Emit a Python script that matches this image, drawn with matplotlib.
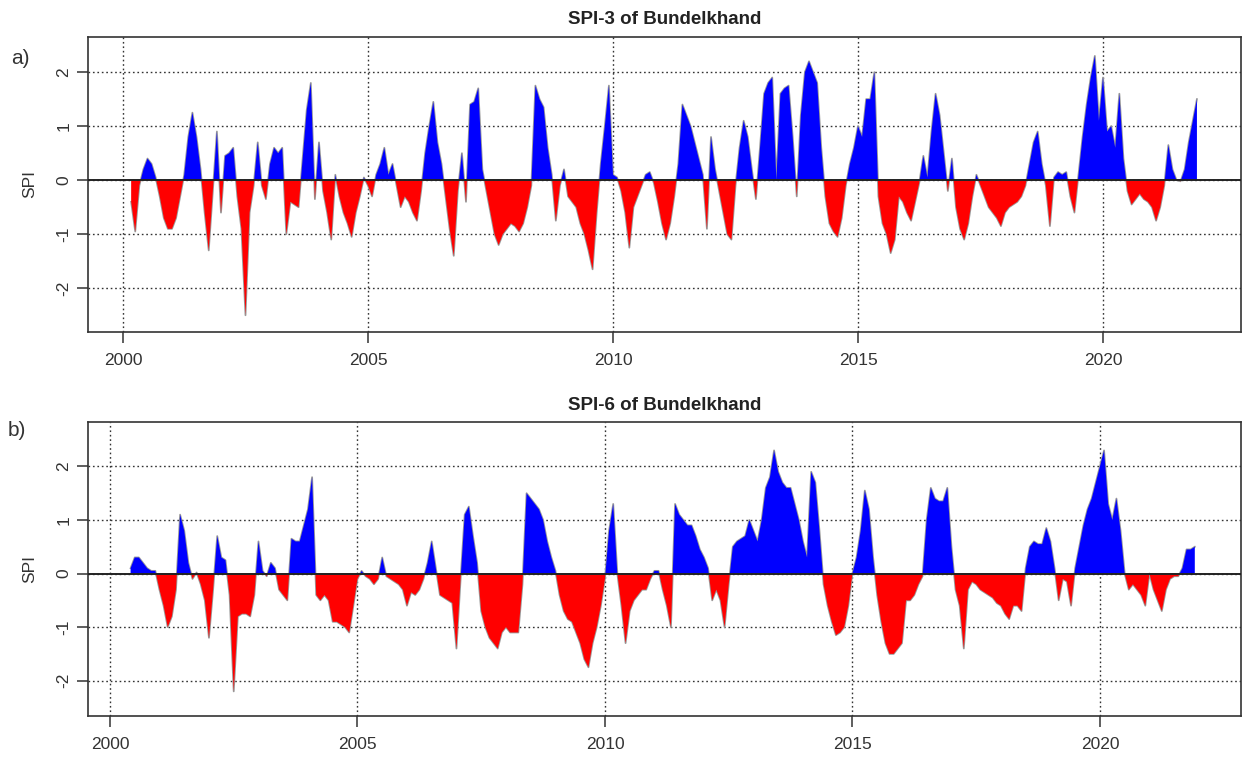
import numpy as np
import matplotlib
matplotlib.use("Agg")
import matplotlib.pyplot as plt

plt.rcParams['font.family'] = ['Liberation Sans', 'DejaVu Sans']

# ---------------- data (monthly SPI, month index 0 = Jan 2000) ----------------
spi3_start = 2   # Mar 2000
spi3 = [
    -0.4, -0.95, -0.1, 0.2, 0.4, 0.3, 0.05, -0.3, -0.7, -0.9,          # m2-11
    -0.9, -0.7, -0.3, 0.1, 0.8, 1.25, 0.8, 0.2, -0.6, -1.3,            # m12-21
    -0.2, 0.9, -0.6, 0.45, 0.5, 0.6, -0.3, -0.9, -2.5, -0.6,           # m22-31
    -0.1, 0.7, -0.1, -0.35, 0.3, 0.6, 0.5, 0.6, -1.0, -0.4,            # m32-41
    -0.45, -0.5, 0.4, 1.3, 1.8, -0.35, 0.7, -0.2, -0.6, -1.1,          # m42-51
    0.1, -0.3, -0.6, -0.8, -1.05, -0.6, -0.3, 0.05, -0.1, -0.3,        # m52-61
    0.1, 0.3, 0.6, 0.1, 0.3, -0.1, -0.5, -0.3, -0.4, -0.6,             # m62-71
    -0.75, -0.2, 0.5, 1.0, 1.45, 0.7, 0.3, -0.3, -0.9, -1.4,           # m72-81
    -0.2, 0.5, -0.4, 1.4, 1.45, 1.7, 0.2, -0.2, -0.6, -1.0,            # m82-91
    -1.2, -1.0, -0.9, -0.8, -0.85, -0.95, -0.8, -0.5, -0.1, 1.75,      # m92-101
    1.5, 1.35, 0.6, 0.1, -0.75, -0.1, 0.2, -0.3, -0.4, -0.5,           # m102-111
    -0.8, -1.0, -1.3, -1.65, -0.6, 0.3, 1.0, 1.75, 0.1, 0.05,          # m112-121
    -0.2, -0.6, -1.25, -0.5, -0.3, -0.1, 0.1, 0.15, -0.05, -0.4,       # m122-131
    -0.8, -1.1, -0.8, -0.3, 0.3, 1.4, 1.2, 1.0, 0.7, 0.4,              # m132-141
    0.1, -0.9, 0.8, 0.2, -0.2, -0.6, -1.0, -1.1, -0.1, 0.6,            # m142-151
    1.1, 0.8, 0.2, -0.35, 0.6, 1.6, 1.8, 1.9, 0.0, 1.6,                # m152-161
    1.7, 1.75, 0.8, -0.3, 1.2, 2.0, 2.2, 2.0, 1.8, 0.6,                # m162-171
    -0.3, -0.8, -0.95, -1.05, -0.7, -0.1, 0.3, 0.6, 1.0, 0.8,          # m172-181
    1.5, 1.5, 2.0, -0.3, -0.8, -1.0, -1.35, -1.1, -0.3, -0.4,          # m182-191
    -0.6, -0.75, -0.4, -0.05, 0.45, 0.05, 0.9, 1.6, 1.2, 0.5,          # m192-201
    -0.2, 0.4, -0.5, -0.9, -1.1, -0.8, -0.3, 0.1, -0.1, -0.3,          # m202-211
    -0.5, -0.6, -0.7, -0.85, -0.6, -0.5, -0.45, -0.4, -0.3, -0.1,      # m212-221
    0.3, 0.7, 0.9, 0.3, -0.1, -0.85, 0.05, 0.15, 0.1, 0.15,            # m222-231
    -0.3, -0.6, 0.1, 0.8, 1.4, 1.9, 2.3, 1.1, 1.9, 0.9,                # m232-241
    1.0, 0.6, 1.6, 0.4, -0.2, -0.45, -0.35, -0.25, -0.35, -0.4,        # m242-251
    -0.5, -0.75, -0.5, -0.1, 0.65, 0.2, 0.0, -0.02, 0.2, 0.7,          # m252-261
    1.1, 1.5,                                                          # m262-263
]

spi6_start = 5   # Jun 2000
spi6 = [
    0.1, 0.3, 0.3, 0.2, 0.1, 0.05, 0.05,                               # m5-11
    -0.3, -0.6, -1.0, -0.8, -0.3, 1.1, 0.8, 0.2, -0.1, 0.02,           # m12-21
    -0.2, -0.5, -1.2, -0.3, 0.7, 0.3, 0.25, -0.4, -2.2, -0.8,          # m22-31
    -0.75, -0.75, -0.8, -0.4, 0.6, 0.05, -0.05, 0.2, 0.1, -0.3,        # m32-41
    -0.4, -0.5, 0.65, 0.6, 0.6, 0.9, 1.2, 1.8, -0.4, -0.5,             # m42-51
    -0.4, -0.5, -0.9, -0.9, -0.95, -1.0, -1.1, -0.6, -0.1, 0.05,       # m52-61
    -0.05, -0.1, -0.2, -0.1, 0.3, -0.05, -0.1, -0.15, -0.2, -0.3,      # m62-71
    -0.6, -0.35, -0.4, -0.3, -0.1, 0.2, 0.6, 0.1, -0.4, -0.45,         # m72-81
    -0.5, -0.55, -1.4, -0.1, 1.1, 1.25, 0.7, 0.2, -0.7, -1.0,          # m82-91
    -1.2, -1.3, -1.4, -1.1, -1.0, -1.1, -1.1, -1.1, -0.2, 1.5,         # m92-101
    1.4, 1.3, 1.2, 1.0, 0.6, 0.3, 0.05, -0.4, -0.7, -0.85,             # m102-111
    -0.9, -1.1, -1.3, -1.6, -1.75, -1.3, -1.0, -0.6, -0.1, 0.8,        # m112-121
    1.3, 0.0, -0.6, -1.3, -0.7, -0.5, -0.4, -0.3, -0.3, -0.1,          # m122-131
    0.05, 0.05, -0.3, -0.6, -1.0, 1.3, 1.1, 1.0, 0.9, 0.9,             # m132-141
    0.7, 0.45, 0.3, 0.1, -0.5, -0.3, -0.5, -1.0, -0.2, 0.5,            # m142-151
    0.6, 0.65, 0.7, 1.0, 0.8, 0.6, 1.0, 1.6, 1.8, 2.3,                 # m152-161
    1.9, 1.7, 1.6, 1.6, 1.3, 1.0, 0.6, 0.3, 1.9, 1.7,                  # m162-171
    0.8, -0.2, -0.6, -0.9, -1.15, -1.1, -1.0, -0.6, 0.0, 0.3,          # m172-181
    0.8, 1.55, 1.2, 0.3, -0.4, -0.9, -1.3, -1.5, -1.5, -1.4,           # m182-191
    -1.3, -0.5, -0.5, -0.4, -0.2, -0.05, 1.0, 1.6, 1.4, 1.35,          # m192-201
    1.35, 1.6, 0.5, -0.3, -0.6, -1.4, -0.3, -0.15, -0.2, -0.3,         # m202-211
    -0.35, -0.4, -0.45, -0.55, -0.6, -0.75, -0.85, -0.6, -0.6, -0.7,   # m212-221
    0.1, 0.5, 0.6, 0.55, 0.55, 0.85, 0.6, 0.1, -0.5, -0.1,             # m222-231
    -0.15, -0.6, 0.1, 0.5, 0.9, 1.2, 1.4, 1.7, 2.0, 2.3,               # m232-241
    1.3, 1.0, 1.4, 0.8, 0.0, -0.3, -0.2, -0.3, -0.4, -0.6,             # m242-251
    0.0, -0.3, -0.5, -0.7, -0.3, -0.1, -0.05, -0.05, 0.1, 0.45,        # m252-261
    0.45, 0.5,                                                         # m262-263
]

titles = ["SPI-3 of Bundelkhand", "SPI-6 of Bundelkhand"]
panel_labels = ["a)", "b)"]
year_ticks = [2000, 2005, 2010, 2015, 2020]
spi_ticks = [-2, -1, 0, 1, 2]

# ---------------- figure ----------------
W, H = 1243, 758
fig = plt.figure(figsize=(W / 100, H / 100), dpi=100)

def px_axes(left, top, right, bottom):
    return fig.add_axes([left / W, 1 - bottom / H, (right - left) / W, (bottom - top) / H])

axes_specs = [
    dict(box=(88, 37, 1241, 332), xlim=(1999.286, 2022.816), ylim=(-2.81, 2.65),
         lab_xy=(20, 58)),
    dict(box=(88, 422, 1241, 716), xlim=(1999.556, 2022.85), ylim=(-2.66, 2.83),
         lab_xy=(17, 430)),
]

series = [(spi3_start, spi3), (spi6_start, spi6)]

for k, spec in enumerate(axes_specs):
    ax = px_axes(*spec["box"])
    start, vals = series[k]
    y = np.array(vals, dtype=float)
    x = 2000 + (start + np.arange(len(y))) / 12.0

    ax.plot(x, y, color='#9a9a9a', lw=1.3, zorder=2)
    ax.fill_between(x, y, 0, where=y >= 0, interpolate=True, color='#0000ff',
                    lw=0, zorder=3)
    ax.fill_between(x, y, 0, where=y <= 0, interpolate=True, color='#ff0000',
                    lw=0, zorder=3)
    ax.axhline(0, color='#222222', lw=1.4, zorder=4)

    ax.set_xlim(*spec["xlim"])
    ax.set_ylim(*spec["ylim"])
    ax.set_xticks(year_ticks)
    ax.set_xticklabels([str(t) for t in year_ticks])
    ax.set_yticks(spi_ticks)
    ax.set_yticklabels([str(t) for t in spi_ticks], rotation=90, va='center')
    ax.grid(True, color='#333333', linestyle=(0, (1.2, 2.0)), lw=1.0, zorder=1)
    ax.set_axisbelow(True)
    ax.tick_params(axis='both', direction='out', length=8, width=1.1,
                   colors='#333333', labelcolor='#333333', labelsize=12.5)
    ax.tick_params(axis='x', pad=7)
    ax.tick_params(axis='y', pad=4)
    for s in ax.spines.values():
        s.set_color('#333333')
        s.set_linewidth(1.2)
    ax.set_ylabel("SPI", fontsize=12.5, color='#333333', labelpad=14)
    ax.set_title(titles[k], fontsize=13.5, fontweight='bold', color='#222222', pad=9)
    fig.text(spec["lab_xy"][0] / W, 1 - spec["lab_xy"][1] / H, panel_labels[k],
             fontsize=15, color='#333333', ha='center', va='center')

fig.savefig("out.png", dpi=100)
